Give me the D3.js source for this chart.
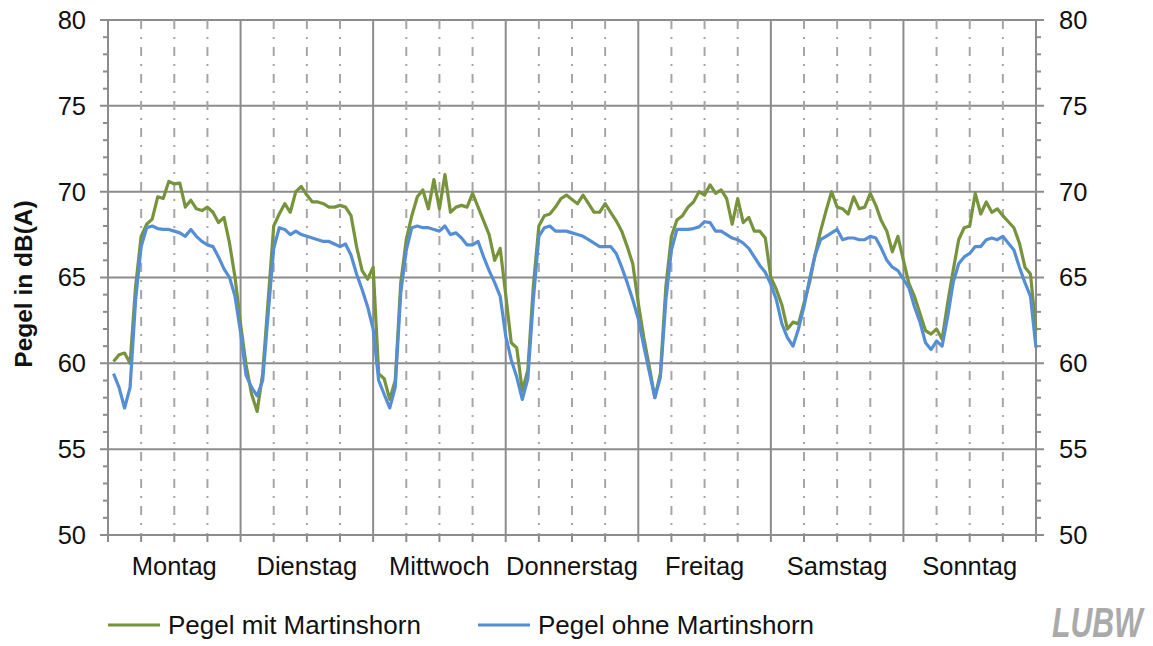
<!DOCTYPE html>
<html>
<head>
<meta charset="utf-8">
<script src="https://cdn.jsdelivr.net/npm/d3@7"></script>
<style>
  html, body { margin: 0; padding: 0; background: #fff; }
  text { font-family: "Liberation Sans", Arial, sans-serif; }
</style>
</head>
<body>
<div id="chart"></div>
<script>
(() => {
  // Wochentage
  const days = ['Montag', 'Dienstag', 'Mittwoch', 'Donnerstag', 'Freitag', 'Samstag', 'Sonntag'];
  const yTicks = [50, 55, 60, 65, 70, 75, 80];

  // Stundenwerte (1 bis 24 Uhr) je Tag, Pegel mit Martinshorn
  const mitMontag     = [60.1, 60.5, 60.6, 60.0, 64.5, 67.4, 68.1, 68.4, 69.7, 69.6, 70.6, 70.45, 70.5, 69.1, 69.5, 69.0, 68.9, 69.1, 68.8, 68.2, 68.5, 67.0, 65.0, 62.3];
  const mitDienstag   = [59.9, 58.2, 57.2, 59.4, 63.7, 68.0, 68.7, 69.3, 68.8, 70.0, 70.3, 69.8, 69.4, 69.4, 69.3, 69.1, 69.1, 69.2, 69.1, 68.6, 66.8, 65.4, 64.9, 65.6];
  const mitMittwoch   = [59.4, 59.1, 57.9, 59.0, 64.7, 67.2, 68.6, 69.7, 70.1, 69.0, 70.7, 69.0, 71.0, 68.8, 69.1, 69.2, 69.1, 69.9, 69.1, 68.3, 67.5, 66.0, 66.7, 64.0];
  const mitDonnerstag = [61.2, 60.9, 58.4, 59.6, 64.5, 68.0, 68.6, 68.7, 69.1, 69.6, 69.8, 69.55, 69.3, 69.8, 69.3, 68.8, 68.8, 69.3, 68.8, 68.3, 67.7, 66.8, 65.8, 63.5];
  const mitFreitag    = [61.5, 59.8, 58.0, 59.4, 64.5, 67.4, 68.35, 68.6, 69.1, 69.4, 70.0, 69.8, 70.4, 69.9, 70.1, 69.6, 68.1, 69.6, 68.2, 68.5, 67.7, 67.7, 67.3, 65.0];
  const mitSamstag    = [64.3, 63.4, 62.0, 62.4, 62.3, 63.5, 64.7, 66.3, 67.7, 68.9, 70.0, 69.1, 69.0, 68.7, 69.7, 69.0, 69.1, 69.9, 69.2, 68.3, 67.7, 66.5, 67.4, 66.0];
  const mitSonntag    = [64.65, 63.9, 62.9, 61.9, 61.7, 62.0, 61.4, 63.5, 65.4, 67.2, 67.9, 68.0, 69.9, 68.7, 69.4, 68.8, 69.0, 68.6, 68.25, 67.9, 67.0, 65.6, 65.2, 61.9];

  // Pegel ohne Martinshorn
  const ohneMontag     = [59.4, 58.6, 57.4, 58.6, 63.7, 66.8, 67.9, 68.0, 67.85, 67.8, 67.8, 67.7, 67.6, 67.4, 67.8, 67.4, 67.1, 66.9, 66.8, 66.2, 65.5, 65.0, 63.9, 61.8];
  const ohneDienstag   = [59.3, 58.6, 58.1, 59.0, 62.9, 66.7, 67.9, 67.8, 67.5, 67.7, 67.5, 67.4, 67.3, 67.2, 67.1, 67.1, 66.95, 66.8, 66.95, 66.3, 65.2, 64.3, 63.3, 62.0];
  const ohneMittwoch   = [59.0, 58.2, 57.4, 58.6, 64.1, 66.6, 67.9, 68.0, 67.9, 67.9, 67.8, 67.7, 68.0, 67.5, 67.6, 67.3, 66.9, 66.9, 67.1, 66.2, 65.4, 64.7, 63.9, 61.6];
  const ohneDonnerstag = [60.2, 59.2, 57.9, 59.1, 63.7, 67.4, 67.9, 68.0, 67.7, 67.7, 67.7, 67.6, 67.5, 67.4, 67.2, 67.0, 66.8, 66.8, 66.8, 66.4, 65.6, 64.7, 63.7, 62.6];
  const ohneFreitag    = [61.0, 59.5, 58.0, 59.2, 63.7, 66.6, 67.8, 67.8, 67.8, 67.85, 67.95, 68.25, 68.2, 67.7, 67.7, 67.5, 67.3, 67.2, 67.0, 66.7, 66.2, 65.7, 65.3, 64.6];
  const ohneSamstag    = [63.7, 62.3, 61.5, 61.0, 62.0, 63.3, 64.9, 66.3, 67.2, 67.4, 67.6, 67.8, 67.2, 67.3, 67.3, 67.2, 67.2, 67.4, 67.3, 66.7, 66.0, 65.6, 65.4, 64.9];
  const ohneSonntag    = [64.4, 63.3, 62.4, 61.2, 60.8, 61.3, 61.0, 62.7, 64.7, 65.8, 66.2, 66.4, 66.8, 66.8, 67.2, 67.3, 67.2, 67.4, 67.0, 66.6, 65.6, 64.7, 63.9, 60.9];

  const mitMartinshorn = [].concat(mitMontag, mitDienstag, mitMittwoch, mitDonnerstag, mitFreitag, mitSamstag, mitSonntag);
  const ohneMartinshorn = [].concat(ohneMontag, ohneDienstag, ohneMittwoch, ohneDonnerstag, ohneFreitag, ohneSamstag, ohneSonntag);

  const series = [
    { name: 'Pegel mit Martinshorn', values: mitMartinshorn, color: '#77933c' },
    { name: 'Pegel ohne Martinshorn', values: ohneMartinshorn, color: '#558ed5' }
  ];

  const width = 1153, height = 646;
  const margin = { top: 20, right: 117, bottom: 111, left: 108 };
  const gridColor = '#8c8c8c';
  const fontSize = 25.5;
  const hours = days.length * 24;

  const svg = d3.select('#chart')
    .append('svg')
    .attr('width', width)
    .attr('height', height);

  const x = d3.scaleLinear()
    .domain([0, hours])
    .range([margin.left, width - margin.right]);

  const y = d3.scaleLinear()
    .domain([50, 80])
    .range([height - margin.bottom, margin.top]);

  const sixHours = d3.range(0, hours + 1, 6);
  const minor = d3.range(50, 81, 1).filter(d => d % 5 !== 0);

  // Gitterlinien horizontal
  svg.append('g')
    .selectAll('line')
    .data(yTicks.filter(d => d > 50))
    .enter()
    .append('line')
    .attr('x1', x(0) - 8)
    .attr('x2', x(hours) + 8)
    .attr('y1', d => y(d))
    .attr('y2', d => y(d))
    .attr('stroke', gridColor)
    .attr('stroke-width', 2);

  // Gitterlinien vertikal (gestrichelt alle 6 Stunden, durchgezogen je Tag)
  svg.append('g')
    .selectAll('line')
    .data(sixHours.filter(d => d % 24 !== 0))
    .enter()
    .append('line')
    .attr('x1', d => x(d))
    .attr('x2', d => x(d))
    .attr('y1', y(80))
    .attr('y2', y(50))
    .attr('stroke', '#a6a6a6')
    .attr('stroke-width', 2)
    .attr('stroke-dasharray', '9,8,2,8');

  svg.append('g')
    .selectAll('line')
    .data(sixHours.filter(d => d % 24 === 0))
    .enter()
    .append('line')
    .attr('x1', d => x(d))
    .attr('x2', d => x(d))
    .attr('y1', y(80))
    .attr('y2', y(50))
    .attr('stroke', gridColor)
    .attr('stroke-width', 2);

  // x-Achse
  svg.append('line')
    .attr('x1', x(0) - 8)
    .attr('x2', x(hours) + 8)
    .attr('y1', y(50))
    .attr('y2', y(50))
    .attr('stroke', gridColor)
    .attr('stroke-width', 2);

  svg.append('g')
    .selectAll('line')
    .data(sixHours)
    .enter()
    .append('line')
    .attr('x1', d => x(d))
    .attr('x2', d => x(d))
    .attr('y1', y(50))
    .attr('y2', y(50) + 7)
    .attr('stroke', gridColor)
    .attr('stroke-width', 2);

  // Nebenstriche an beiden y-Achsen
  [[x(0), -5], [x(hours), 5]].forEach(([ax, len]) => {
    svg.append('g')
      .selectAll('line')
      .data(minor)
      .enter()
      .append('line')
      .attr('x1', ax)
      .attr('x2', ax + len)
      .attr('y1', d => y(d))
      .attr('y2', d => y(d))
      .attr('stroke', gridColor)
      .attr('stroke-width', 2);
  });

  // Achsenbeschriftungen
  svg.append('g')
    .selectAll('text')
    .data(yTicks)
    .enter()
    .append('text')
    .attr('x', x(0) - 22)
    .attr('y', d => y(d))
    .attr('dy', '.35em')
    .attr('text-anchor', 'end')
    .attr('font-size', fontSize)
    .attr('fill', '#111')
    .text(d => d);

  svg.append('g')
    .selectAll('text')
    .data(yTicks)
    .enter()
    .append('text')
    .attr('x', x(hours) + 23)
    .attr('y', d => y(d))
    .attr('dy', '.35em')
    .attr('text-anchor', 'start')
    .attr('font-size', fontSize)
    .attr('fill', '#111')
    .text(d => d);

  svg.append('g')
    .selectAll('text')
    .data(days)
    .enter()
    .append('text')
    .attr('x', (d, i) => x(i * 24 + 12))
    .attr('y', 575)
    .attr('text-anchor', 'middle')
    .attr('font-size', fontSize)
    .attr('fill', '#111')
    .text(d => d);

  svg.append('text')
    .attr('transform', `translate(32,284) rotate(-90)`)
    .attr('text-anchor', 'middle')
    .attr('font-size', 24.5)
    .attr('font-weight', 'bold')
    .attr('fill', '#111')
    .text('Pegel in dB(A)');

  // Linien
  const line = d3.line()
    .x((d, i) => x(i + 1))
    .y(d => y(d));

  svg.append('g')
    .selectAll('path')
    .data(series)
    .enter()
    .append('path')
    .attr('d', d => line(d.values))
    .attr('fill', 'none')
    .attr('stroke', d => d.color)
    .attr('stroke-width', 3.2)
    .attr('stroke-linejoin', 'round');

  // Legende
  const legend = svg.append('g')
    .selectAll('g')
    .data(series)
    .enter()
    .append('g')
    .attr('transform', (d, i) => `translate(${i === 0 ? 108 : 478},625)`);

  legend.append('line')
    .attr('x1', 0)
    .attr('x2', 52)
    .attr('stroke', d => d.color)
    .attr('stroke-width', 3.2);

  legend.append('text')
    .attr('x', 60)
    .attr('y', 9)
    .attr('font-size', 26)
    .attr('fill', '#111')
    .text(d => d.name);

  // Logo
  svg.append('text')
    .attr('transform', 'translate(1052,637) scale(0.72,1)')
    .attr('font-family', '"Liberation Sans", Arial, sans-serif')
    .attr('font-size', 42)
    .attr('font-weight', 'bold')
    .attr('font-style', 'italic')
    .attr('fill', '#aaaaaa')
    .text('LUBW');
})();
</script>
</body>
</html>
